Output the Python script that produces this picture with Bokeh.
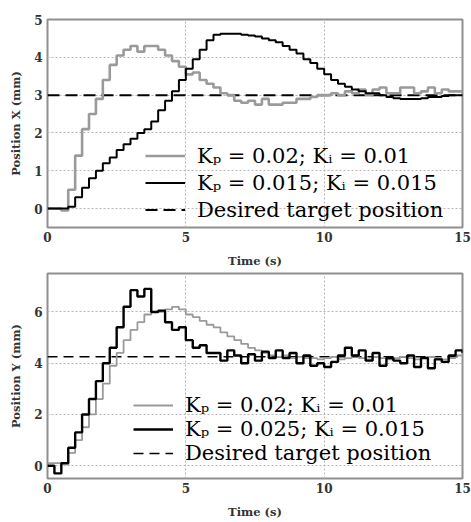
from bokeh.plotting import figure
from bokeh.layouts import column
from bokeh.models import FixedTicker, Legend
from bokeh.embed import file_html
from bokeh.resources import INLINE

# ---------------- data ----------------
time = [i * 0.25 for i in range(61)]  # 0 .. 15 s sample instants

# Top panel: Position X (mm)
x_kp002_ki001 = [0, 0, -0.05, 0.5, 1.4, 2.1, 2.5, 2.9, 3.4, 3.8,
                 4.05, 4.2, 4.3, 4.15, 4.3, 4.3, 4.2, 4.05, 3.9, 3.75,
                 3.55, 3.6, 3.4, 3.3, 3.2, 3.05, 3.0, 2.85, 2.8, 2.85,
                 2.75, 2.9, 2.75, 2.75, 2.8, 2.8, 2.9, 2.9, 2.95, 3.0,
                 3.0, 3.05, 3.0, 3.1, 3.05, 3.15, 3.0, 3.15, 3.2, 3.05,
                 3.05, 3.2, 3.2, 3.05, 3.1, 3.2, 3.05, 3.15, 3.1, 3.1, 3.1]
x_kp0015_ki0015 = [0, 0, 0, 0.05, 0.3, 0.55, 0.8, 1.0, 1.2, 1.35,
                   1.55, 1.7, 1.85, 2.0, 2.1, 2.3, 2.6, 2.85, 3.1, 3.4,
                   3.7, 3.95, 4.2, 4.45, 4.6, 4.62, 4.62, 4.62, 4.6, 4.58,
                   4.55, 4.5, 4.45, 4.4, 4.3, 4.2, 4.1, 3.95, 3.85, 3.7,
                   3.55, 3.4, 3.3, 3.22, 3.15, 3.1, 3.05, 3.05, 3.0, 2.95,
                   2.92, 2.9, 2.9, 2.9, 2.92, 2.95, 2.95, 2.98, 3.0, 3.0, 3.0]
x_target = 3.0

# Bottom panel: Position Y (mm)
y_kp002_ki001 = [0.1, 0.1, 0.05, 0.5, 1.0, 1.5, 2.0, 2.6, 3.2, 3.9,
                 4.4, 4.9, 5.3, 5.6, 5.9, 6.0, 6.0, 6.1, 6.2, 6.1,
                 5.9, 5.8, 5.65, 5.5, 5.4, 5.2, 5.05, 4.9, 4.75, 4.6,
                 4.5, 4.4, 4.3, 4.25, 4.3, 4.2, 4.25, 4.2, 4.2, 4.15,
                 4.2, 4.25, 4.15, 4.2, 4.3, 4.2, 4.15, 4.25, 4.2, 4.15,
                 4.2, 4.25, 4.2, 4.15, 4.2, 4.25, 4.2, 4.15, 4.2, 4.3, 4.3]
y_kp0025_ki0015 = [0, -0.3, 0.1, 0.7, 1.3, 2.0, 2.6, 3.3, 4.0, 4.6,
                   5.4, 6.2, 6.85, 6.6, 6.9, 6.0, 6.05, 5.6, 5.3, 5.4,
                   4.9, 4.6, 4.7, 4.4, 4.4, 4.1, 4.5, 4.3, 4.0, 4.35,
                   4.1, 4.45, 4.2, 4.5, 4.2, 4.4, 4.0, 4.3, 3.9, 4.0,
                   3.85, 4.05, 4.3, 4.6, 4.3, 4.5, 4.1, 4.4, 3.9, 4.2,
                   4.1, 4.0, 4.3, 3.85, 4.2, 3.8, 4.15, 4.05, 4.3, 4.5, 4.4]
y_target = 4.25

x_ticks = [0, 5, 10, 15]
top_y_ticks = [0, 1, 2, 3, 4, 5]
bot_y_ticks = [0, 2, 4, 6]

labels_top = ["K\u209a = 0.02; K\u1d62 = 0.01", "K\u209a = 0.015; K\u1d62 = 0.015", "Desired target position"]
labels_bot = ["K\u209a = 0.02; K\u1d62 = 0.01", "K\u209a = 0.025; K\u1d62 = 0.015", "Desired target position"]

SERIF = "DejaVu Serif"


def make_fig(height, ylim, yticks, ylabel, top_b, bot_b, xlab_standoff):
    p = figure(width=471, height=height, x_range=(0, 15), y_range=ylim,
               output_backend="svg", toolbar_location=None,
               min_border_left=47, min_border_right=9,
               min_border_top=top_b, min_border_bottom=bot_b)
    p.xaxis.ticker = FixedTicker(ticks=x_ticks)
    p.yaxis.ticker = FixedTicker(ticks=yticks)
    p.xaxis.axis_label = "Time (s)"
    p.yaxis.axis_label = ylabel
    for ax in (p.xaxis[0], p.yaxis[0]):
        ax.axis_line_color = None
        ax.major_tick_out = 0
        ax.major_tick_in = 0
        ax.minor_tick_out = 0
        ax.minor_tick_in = 0
        ax.major_label_text_font = SERIF
        ax.major_label_text_font_style = "bold"
        ax.major_label_text_font_size = "12px"
        ax.major_label_text_color = "#333333"
        ax.axis_label_text_font = SERIF
        ax.axis_label_text_font_style = "bold"
        ax.axis_label_text_font_size = "11.5px"
        ax.axis_label_text_color = "#333333"
    p.xaxis.major_label_standoff = 4
    p.xaxis.axis_label_standoff = xlab_standoff
    p.yaxis.major_label_standoff = 5
    p.yaxis.axis_label_standoff = 8
    p.grid.grid_line_color = "#b5b5b5"
    p.grid.grid_line_dash = "2 2"
    p.grid.grid_line_width = 1
    p.outline_line_color = "#8f8f8f"
    p.outline_line_width = 2
    return p


# ---------------- top ----------------
p1 = make_fig(270, (-0.5, 5), top_y_ticks, "Position X (mm)", 19, 42, 9)
d1 = p1.line(x=[time[0], time[-1]], y=[x_target, x_target], line_color="black",
             line_width=2, line_dash="12 6")
g1 = p1.step(x=time, y=x_kp002_ki001, mode="after", line_color="#9a9a9a", line_width=2.6)
b1 = p1.step(x=time, y=x_kp0015_ki0015, mode="after", line_color="black", line_width=2)
leg1 = Legend(items=[(labels_top[0], [g1]), (labels_top[1], [b1]), (labels_top[2], [d1])],
              location=(98, 4))
p1.add_layout(leg1)

# ---------------- bottom ----------------
p2 = make_fig(252, (-0.5, 7.5), bot_y_ticks, "Position Y (mm)", 3, 44, 9)
d2 = p2.line(x=[time[0], time[-1]], y=[y_target, y_target], line_color="black",
             line_width=1.6, line_dash="10 6")
g2 = p2.step(x=time, y=y_kp002_ki001, mode="after", line_color="#9a9a9a", line_width=1.8)
b2 = p2.step(x=time, y=y_kp0025_ki0015, mode="after", line_color="black", line_width=2.4)
leg2 = Legend(items=[(labels_bot[0], [g2]), (labels_bot[1], [b2]), (labels_bot[2], [d2])],
              location=(86, 13))
p2.add_layout(leg2)

for lg, h in ((leg1, 27), (leg2, 24)):
    lg.background_fill_alpha = 0
    lg.border_line_color = None
    lg.padding = 0
    lg.margin = 0
    lg.spacing = 0
    lg.label_height = h
    lg.glyph_height = h
    lg.glyph_width = 40
    lg.label_standoff = 12
    lg.label_text_font = SERIF
    lg.label_text_font_size = "21px"
    lg.label_text_color = "black"

layout = column(p1, p2)
open("out.html", "w").write(file_html(layout, INLINE))
